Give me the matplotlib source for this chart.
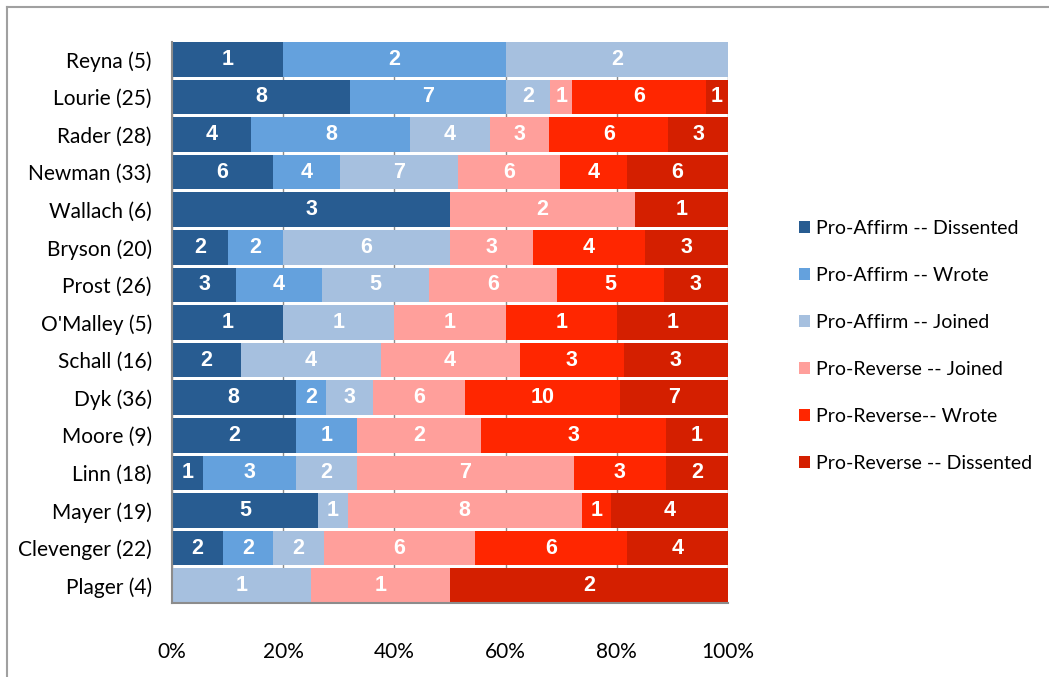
import matplotlib
matplotlib.use('Agg')
import matplotlib.pyplot as plt
from matplotlib.lines import Line2D
import numpy as np

judges = ['Reyna (5)', 'Lourie (25)', 'Rader (28)', 'Newman (33)', 'Wallach (6)',
          'Bryson (20)', 'Prost (26)', "O'Malley (5)", 'Schall (16)', 'Dyk (36)',
          'Moore (9)', 'Linn (18)', 'Mayer (19)', 'Clevenger (22)', 'Plager (4)']

aff_dissented = [1, 8, 4, 6, 3, 2, 3, 1, 2, 8, 2, 1, 5, 2, 0]
aff_wrote     = [2, 7, 8, 4, 0, 2, 4, 0, 0, 2, 1, 3, 0, 2, 0]
aff_joined    = [2, 2, 4, 7, 0, 6, 5, 1, 4, 3, 0, 2, 1, 2, 1]
rev_joined    = [0, 1, 3, 6, 2, 3, 6, 1, 4, 6, 2, 7, 8, 6, 1]
rev_wrote     = [0, 6, 6, 4, 0, 4, 5, 1, 3, 10, 3, 3, 1, 6, 0]
rev_dissented = [0, 1, 3, 6, 1, 3, 3, 1, 3, 7, 1, 2, 4, 4, 2]

series = [aff_dissented, aff_wrote, aff_joined, rev_joined, rev_wrote, rev_dissented]
names = ['Pro-Affirm -- Dissented', 'Pro-Affirm -- Wrote', 'Pro-Affirm -- Joined',
         'Pro-Reverse -- Joined', 'Pro-Reverse-- Wrote', 'Pro-Reverse -- Dissented']
colors = ['#285c91', '#64a1dd', '#a6c0df', '#ff9f9b', '#ff2600', '#d41f00']

plt.rcParams['font.family'] = ['Lato', 'DejaVu Sans']

fig = plt.figure(figsize=(10.49, 6.77), dpi=100)
ax = fig.add_axes([172/1049, 1-603/677, (728-172)/1049, (603-42)/677])

data = np.array(series, dtype=float)
totals = data.sum(axis=0)
frac = data / totals
y = np.arange(len(judges))
left = np.zeros(len(judges))
h = 0.92
for i in range(len(series)):
    ax.barh(y, frac[i], left=left, height=h, color=colors[i], label=names[i], zorder=2)
    for j in range(len(judges)):
        if data[i, j] > 0:
            ax.text(left[j] + frac[i, j]/2, y[j], str(int(data[i, j])), ha='center', va='center',
                    color='white', fontsize=15.5, fontweight='bold', family='Liberation Sans', zorder=3)
    left += frac[i]

ax.set_xlim(0, 1)
ax.set_ylim(len(judges) - 1 + h/2, -h/2)
ax.set_yticks(y)
ax.set_yticklabels(judges, fontsize=15)
ax.set_xticks(np.linspace(0, 1, 6))
ax.set_xticklabels(['0%', '20%', '40%', '60%', '80%', '100%'], fontsize=15)
ax.tick_params(axis='y', length=0, pad=14.5)
ax.tick_params(axis='x', length=0, pad=28)
ax.grid(axis='x', color='#8c8c8c', lw=1, zorder=1)
for s in ['top', 'right']:
    ax.spines[s].set_visible(False)
for s in ['left', 'bottom']:
    ax.spines[s].set_color('#8c8c8c')
    ax.spines[s].set_linewidth(1.5)

ax.legend(loc='upper left', bbox_to_anchor=(799/1049, 1-220/677), bbox_transform=fig.transFigure,
          frameon=False, fontsize=14, handlelength=0.55, handleheight=0.55, handletextpad=0.3,
          labelspacing=1.54, borderaxespad=0, borderpad=0)

fig.add_artist(Line2D([7/1049, 1], [1-7/677, 1-7/677], color='#a0a0a0', lw=1.5, transform=fig.transFigure))
fig.add_artist(Line2D([7/1049, 7/1049], [0, 1-7/677], color='#a0a0a0', lw=1.5, transform=fig.transFigure))

fig.savefig('out.png', dpi=100)
